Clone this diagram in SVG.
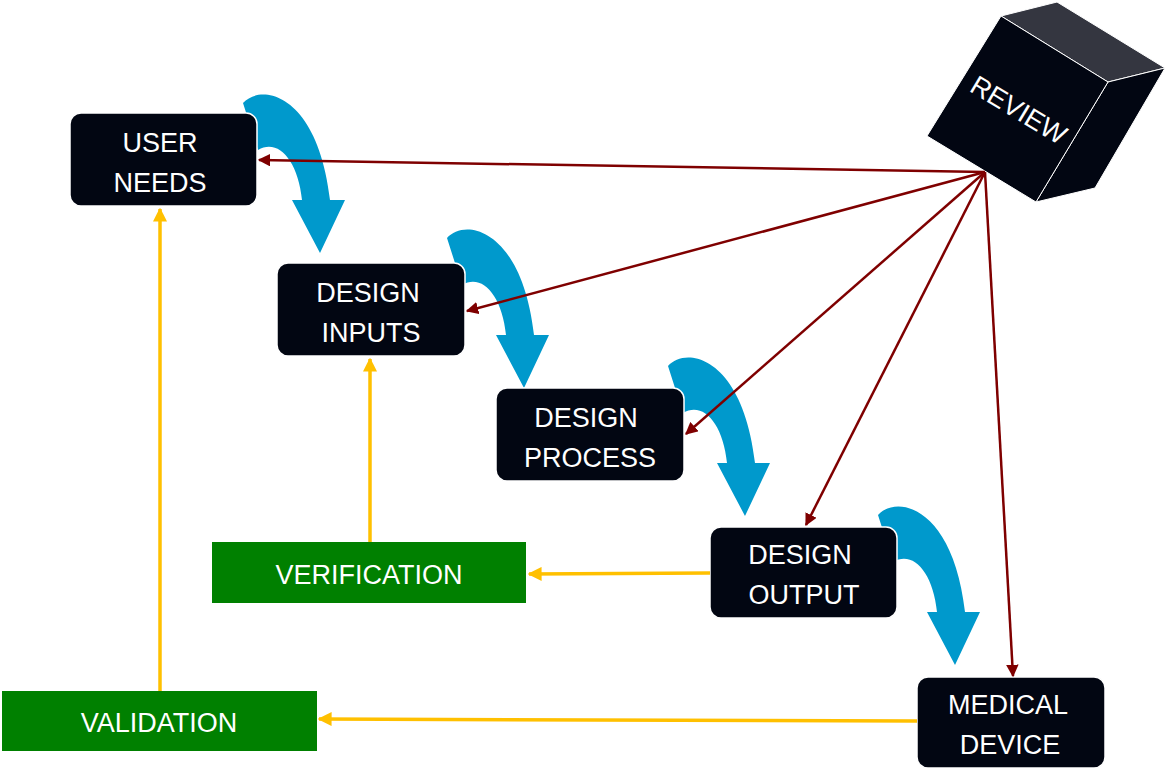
<svg xmlns="http://www.w3.org/2000/svg" width="1168" height="784" viewBox="0 0 1168 784">
<style>
.box{fill:#020612;stroke:#fff;stroke-width:1.5}
.g{fill:#008000}
.t{font-family:"Liberation Sans",Arial,sans-serif;font-size:27px;fill:#fff;text-anchor:middle}
.red{stroke:#7f0000;stroke-width:2.5;fill:none;marker-end:url(#mr)}
.yel{stroke:#ffc000;stroke-width:3.5;fill:none;marker-end:url(#my)}
.blue{fill:#0099cc}
</style>
<defs>
<marker id="mr" viewBox="0 0 10 10" refX="9" refY="5" markerWidth="5" markerHeight="5" orient="auto"><path d="M0,0L10,5L0,10Z" fill="#7f0000"/></marker>
<marker id="my" viewBox="0 0 10 10" refX="9" refY="5" markerWidth="4" markerHeight="4" orient="auto"><path d="M0,0L10,5L0,10Z" fill="#ffc000"/></marker>
<path id="ca" d="M0,0 C19,-21 75,-8 87,97 L102,97 L77,150 L49,97 L59,97 C55,57 35,35 15,47 Z"/>
</defs>
<rect width="1168" height="784" fill="#fff"/>
<g id="curves" class="blue">
<use href="#ca" transform="translate(243,103)"/>
<use href="#ca" transform="translate(447,238)"/>
<use href="#ca" transform="translate(668,366)"/>
<use href="#ca" transform="translate(878,515)"/>
</g>
<g id="n-user"><rect class="box" x="70" y="113" width="187" height="93" rx="11"/><text class="t" x="160" y="152">USER</text><text class="t" x="160" y="192">NEEDS</text></g>
<g id="n-inputs"><rect class="box" x="277" y="263" width="188" height="93" rx="11"/><text class="t" x="368" y="302">DESIGN</text><text class="t" x="371" y="342">INPUTS</text></g>
<g id="n-process"><rect class="box" x="496" y="388" width="188" height="93" rx="11"/><text class="t" x="586" y="427">DESIGN</text><text class="t" x="590" y="467">PROCESS</text></g>
<g id="n-output"><rect class="box" x="710" y="527" width="187" height="91" rx="11"/><text class="t" x="800" y="564">DESIGN</text><text class="t" x="804" y="604">OUTPUT</text></g>
<g id="n-device"><rect class="box" x="917" y="677" width="188" height="91" rx="11"/><text class="t" x="1008" y="714">MEDICAL</text><text class="t" x="1010" y="754">DEVICE</text></g>
<g id="n-verif"><rect class="g" x="212" y="542" width="314" height="61"/><text class="t" x="369" y="584">VERIFICATION</text></g>
<g id="n-valid"><rect class="g" x="2" y="691" width="315" height="60"/><text class="t" x="159" y="732">VALIDATION</text></g>
<g id="n-review">
<polygon points="1001,16 1057,2 1165,68 1108,82" fill="#343640" stroke="#fff" stroke-width="1"/>
<polygon points="1108,82 1165,68 1095,188 1036,202" fill="#020612" stroke="#fff" stroke-width="1"/>
<polygon points="1001,16 1108,82 1036,202 927,136" fill="#020612" stroke="#fff" stroke-width="1"/>
<text class="t" x="0" y="0" transform="translate(1014,118) rotate(31)">REVIEW</text>
</g>
<g id="connectors">
<path class="red" d="M985,172L259,160"/>
<path class="red" d="M985,172L467,311"/>
<path class="red" d="M985,172L686,434"/>
<path class="red" d="M985,172L806,525"/>
<path class="red" d="M985,172L1013,676"/>
<path class="yel" d="M370,542L370,359"/>
<path class="yel" d="M160,691L160,209"/>
<path class="yel" d="M710,573L529,574"/>
<path class="yel" d="M917,721L319,719"/>
</g>
</svg>
